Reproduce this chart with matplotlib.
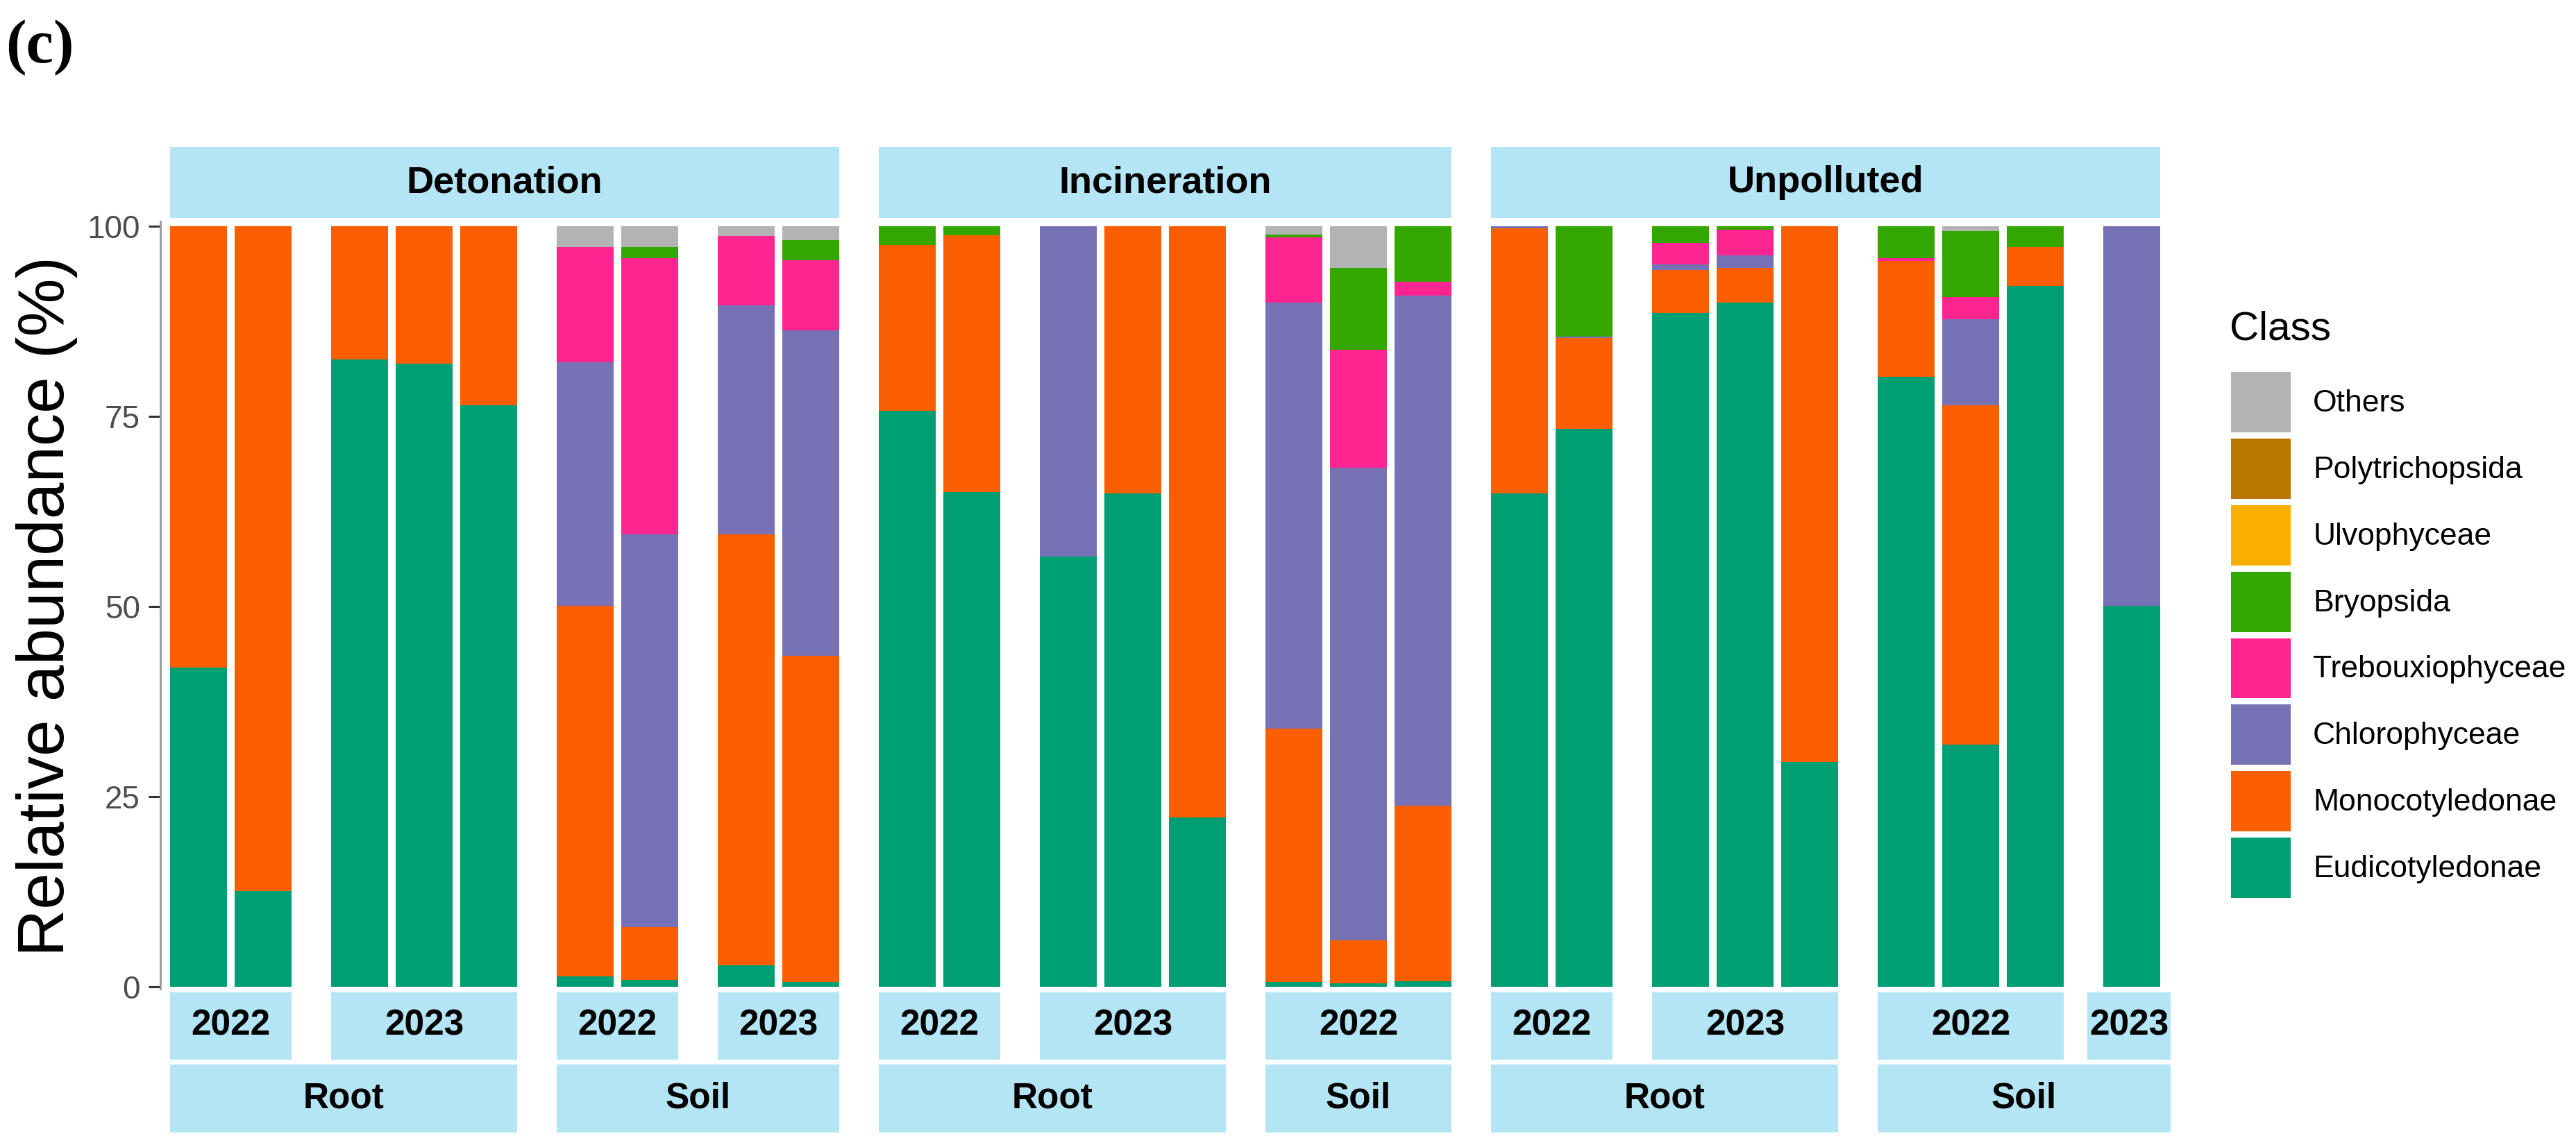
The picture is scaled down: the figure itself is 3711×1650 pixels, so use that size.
import matplotlib
matplotlib.use("Agg")
import matplotlib.pyplot as plt
from matplotlib.patches import Rectangle, Patch
import numpy as np

plt.rcParams['font.family'] = ['Liberation Sans', 'DejaVu Sans']

# ---------------- data ----------------
classes = ["Eudicotyledonae", "Monocotyledonae", "Chlorophyceae", "Trebouxiophyceae",
           "Bryopsida", "Ulvophyceae", "Polytrichopsida", "Others"]
class_colors = ["#009E73", "#FA5E00", "#7771B5", "#FF2590",
                "#33A600", "#F9AE00", "#B87700", "#B3B3B3"]

panel_treatment = ["Detonation", "Detonation", "Detonation", "Detonation",
                   "Incineration", "Incineration", "Incineration",
                   "Unpolluted", "Unpolluted", "Unpolluted", "Unpolluted"]
panel_compartment = ["Root", "Root", "Soil", "Soil",
                     "Root", "Root", "Soil",
                     "Root", "Root", "Soil", "Soil"]
panel_year = ["2022", "2023", "2022", "2023",
              "2022", "2023", "2022",
              "2022", "2023", "2022", "2023"]
panel_nbars = [2, 3, 2, 2, 2, 3, 3, 2, 3, 3, 1]

Eudicotyledonae = [41.9, 12.6, 82.4, 81.9, 76.4, 1.3, 0.9, 2.8, 0.6,
                   75.7, 65.0, 56.5, 64.8, 22.2, 0.6, 0.4, 0.7,
                   64.8, 73.3, 88.6, 89.9, 29.5, 80.2, 31.8, 92.1, 50.1]
Monocotyledonae = [58.1, 87.4, 17.6, 18.1, 23.6, 48.8, 6.9, 56.7, 42.9,
                   21.8, 33.8, 0.0, 35.2, 77.8, 33.3, 5.7, 23.1,
                   34.9, 12.0, 5.6, 4.6, 70.5, 15.2, 44.6, 5.1, 0.0]
Chlorophyceae = [0, 0, 0, 0, 0, 32.0, 51.7, 30.1, 42.8,
                 0, 0, 43.5, 0, 0, 56.0, 62.1, 67.0,
                 0.3, 0.2, 0.7, 1.6, 0, 0, 11.3, 0, 49.9]
Trebouxiophyceae = [0, 0, 0, 0, 0, 15.1, 36.3, 9.1, 9.2,
                    0, 0, 0, 0, 0, 8.6, 15.5, 1.9,
                    0, 0, 2.9, 3.4, 0, 0.4, 3.0, 0, 0]
Bryopsida = [0, 0, 0, 0, 0, 0, 1.4, 0, 2.6,
             2.5, 1.2, 0, 0, 0, 0.4, 10.8, 7.3,
             0, 14.5, 2.2, 0.5, 0, 4.2, 8.6, 2.8, 0]
Ulvophyceae = [0] * 26
Polytrichopsida = [0] * 26
Others = [0, 0, 0, 0, 0, 2.8, 2.8, 1.3, 1.9,
          0, 0, 0, 0, 0, 1.1, 5.5, 0,
          0, 0, 0, 0, 0, 0, 0.7, 0, 0]

series = [Eudicotyledonae, Monocotyledonae, Chlorophyceae, Trebouxiophyceae,
          Bryopsida, Ulvophyceae, Polytrichopsida, Others]
values = np.array(series, dtype=float)  # shape (8, 26)

# ---------------- layout ----------------
W, H = 3712, 1650
fig = plt.figure(figsize=(W / 100, H / 100), dpi=100)

strip_color = "#B3E5F5"
left_px, right_px = 245, 3112
gap_px = 57
bw = 0.88
top_px, bot_px = 319, 1425

ratios = [n - 1 + bw for n in panel_nbars]
unit = (right_px - left_px - gap_px * (len(panel_nbars) - 1)) / sum(ratios)

axes = []
x = left_px
start = 0
for i, n in enumerate(panel_nbars):
    wpx = ratios[i] * unit
    ax = fig.add_axes([x / W, 1 - bot_px / H, wpx / W, (bot_px - top_px) / H])
    xs = np.arange(n)
    bottom = np.zeros(n)
    for k in range(len(classes)):
        v = values[k, start:start + n]
        ax.bar(xs, v, width=bw, bottom=bottom, color=class_colors[k], linewidth=0)
        bottom += v
    ax.set_xlim(-bw / 2, n - 1 + bw / 2)
    ax.set_ylim(-0.3, 100.6)
    for s in ax.spines.values():
        s.set_visible(False)
    ax.set_xticks([])
    if i == 0:
        ax.spines['left'].set_visible(True)
        ax.spines['left'].set_position(('outward', 10))
        ax.spines['left'].set_color('#9A9A9A')
        ax.spines['left'].set_linewidth(2.0)
        ax.set_yticks([0, 25, 50, 75, 100])
        ax.tick_params(axis='y', length=12, width=2.2, color='#333333',
                       labelsize=33, labelcolor='#4D4D4D', pad=9)
    else:
        ax.set_yticks([])
    axes.append(ax)
    x += wpx + gap_px
    start += n

def add_strip(x0, x1, ytop_px, ybot_px, label, size):
    y0 = 1 - ybot_px / H
    h = (ybot_px - ytop_px) / H
    fig.add_artist(Rectangle((x0, y0), x1 - x0, h, transform=fig.transFigure,
                             facecolor=strip_color, edgecolor='none'))
    fig.text((x0 + x1) / 2, y0 + h / 2, label, ha='center', va='center',
             fontsize=size, fontweight='bold', color='black')

# top strips (treatment)
for t in ["Detonation", "Incineration", "Unpolluted"]:
    idx = [i for i, tt in enumerate(panel_treatment) if tt == t]
    x0 = axes[idx[0]].get_position().x0
    x1 = axes[idx[-1]].get_position().x1
    add_strip(x0, x1, 212, 314, t, 39)

# year strips (narrow single-bar panels get a strip wide enough for the label)
min_strip = 120 / W
for i, ax in enumerate(axes):
    p = ax.get_position()
    x0, x1 = p.x0, p.x1
    if x1 - x0 < min_strip:
        extra = min_strip - (x1 - x0)
        x0 -= extra * 0.6
        x1 += extra * 0.4
    add_strip(x0, x1, 1430, 1527, panel_year[i], 37)

# compartment strips
groups = []
for i in range(len(axes)):
    key = (panel_treatment[i], panel_compartment[i])
    if groups and groups[-1][0] == key:
        groups[-1][1].append(i)
    else:
        groups.append((key, [i]))
for key, idx in groups:
    x0 = axes[idx[0]].get_position().x0
    x1 = axes[idx[-1]].get_position().x1
    if idx[-1] == len(axes) - 1:
        x1 = max(x1, 3127 / W)
    add_strip(x0, x1, 1534, 1632, key[1], 37)

# y label
fig.text(68 / W, 1 - 873 / H, "Relative abundance (%)", rotation=90,
         ha='center', va='center', fontsize=68, color='black')

# panel tag
fig.text(8 / W, 1 - 28 / H, "(c)", ha='left', va='top', fontsize=64,
         fontweight='bold', family=['Liberation Serif', 'DejaVu Serif'])

# legend
fig.text(3212 / W, 1 - 447 / H, "Class", ha='left', va='top', fontsize=42,
         color='black')
order = list(range(len(classes)))[::-1]
handles = [Patch(facecolor=class_colors[k], edgecolor='none') for k in order]
labels = [classes[k] for k in order]
fig.legend(handles, labels, loc="upper left",
           bbox_to_anchor=(3214 / W, 1 - 536 / H), frameon=False,
           fontsize=32, handlelength=1.94, handleheight=2.63,
           labelspacing=0.203, handletextpad=0.72, borderpad=0, borderaxespad=0)

fig.savefig("out.png", dpi=100, facecolor='white')
